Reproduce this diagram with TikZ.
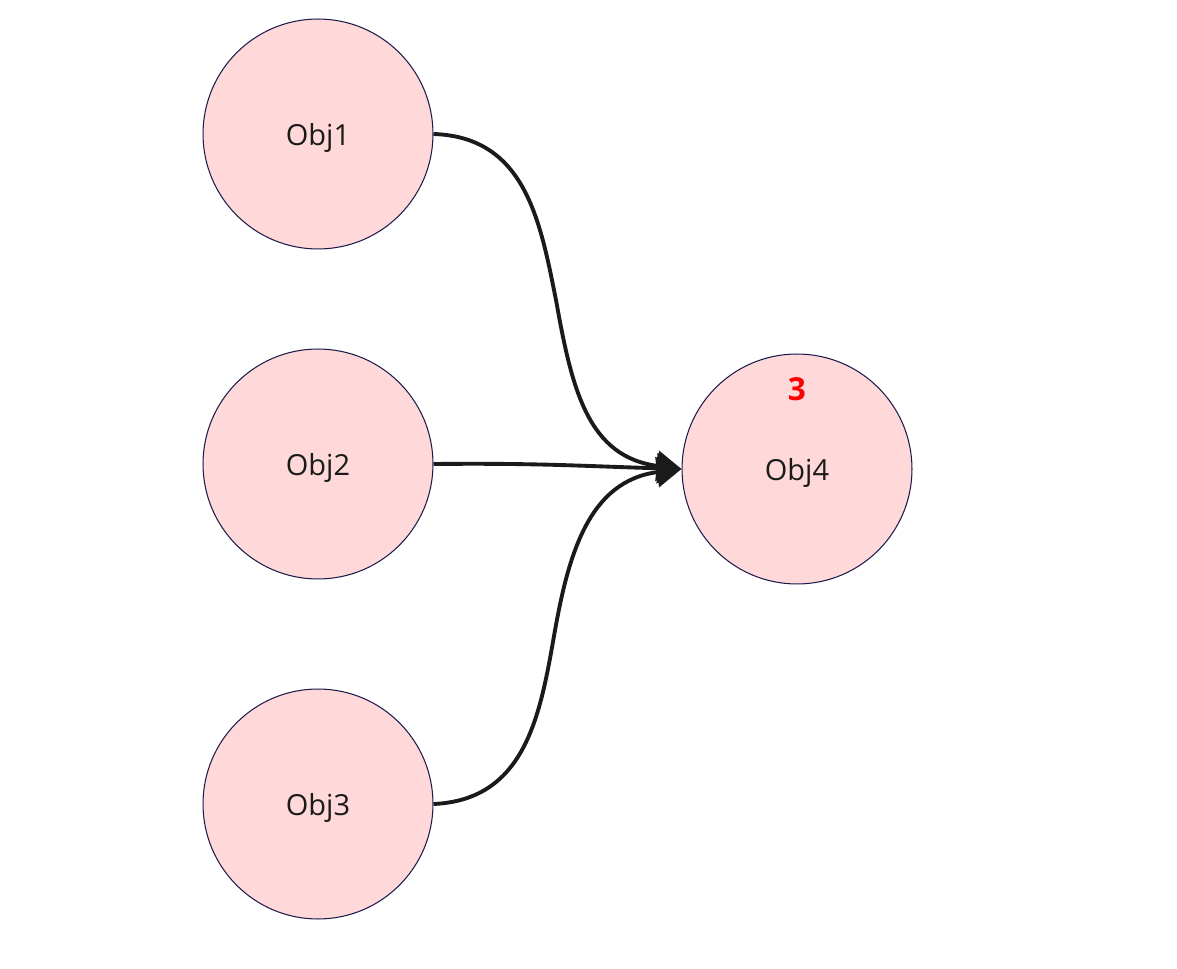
\documentclass[tikz,border=0pt]{standalone}
\usepackage{fontspec}
\setmainfont{Open Sans}
\usetikzlibrary{arrows.meta}
\definecolor{objfill}{HTML}{FFD9D9}
\definecolor{objdraw}{HTML}{1C1C4A}
\definecolor{linec}{HTML}{1A1A1A}
\tikzset{
  obj/.style={circle,draw=objdraw,fill=objfill,line width=0.6pt,minimum size=4.6cm,inner sep=0pt,text depth=0pt,font=\fontsize{16.5}{18}\selectfont,text=linec},
  conn/.style={draw=linec,line width=2.2pt,-{Triangle[length=14pt,width=17pt]}},
  badge/.style={text=red,font=\bfseries\fontsize{18}{20}\selectfont,inner sep=0pt}
}
\begin{document}
\begin{tikzpicture}[x=0.02cm,y=-0.02cm]
\useasboundingbox (0,0) rectangle (1177,969);
\node[obj] (o1) at (318,134) {Obj1};
\node[obj] (o2) at (318,464) {Obj2};
\node[obj] (o3) at (318,804) {Obj3};
\node[obj] (o4) at (797,469) {Obj4};
\node[badge] (b) at (797,389) {3};
\draw[conn] (o1.east) .. controls (525,137) and (540,220) .. (556,300) .. controls (572,390) and (588,457) .. (o4.west);
\draw[conn] (o2.east) .. controls (540,463) and (580,466) .. (o4.west);
\draw[conn] (o3.east) .. controls (525,800) and (540,716) .. (554,636) .. controls (568,556) and (588,481) .. (o4.west);
\end{tikzpicture}
\end{document}
